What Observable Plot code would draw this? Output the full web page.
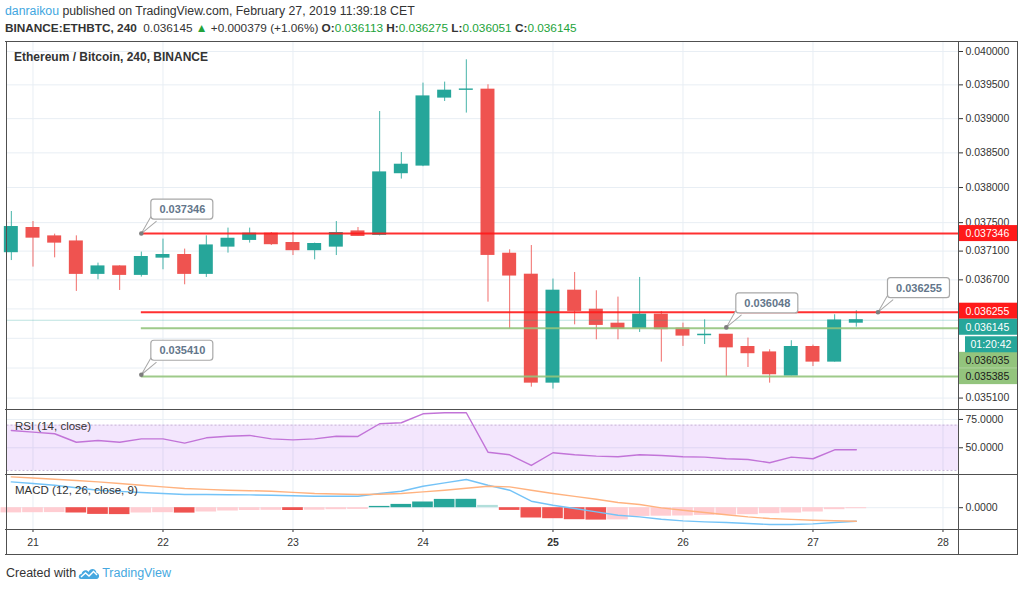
<!DOCTYPE html>
<html>
<head>
<meta charset="utf-8">
<script src="https://cdn.jsdelivr.net/npm/d3@7"></script>
<script src="https://cdn.jsdelivr.net/npm/@observablehq/plot@0.6"></script>
<style>
  html, body { margin: 0; padding: 0; background: #fff; }
  #wrap { position: relative; width: 1024px; height: 589px; overflow: hidden; background: #fff;
          font-family: "Liberation Sans", Arial, sans-serif; color: #333; }
  .pane { position: absolute; left: 0; }
  .hdr { position: absolute; left: 5px; line-height: 14px; white-space: nowrap; color: #333; }
  .g { color: #22a33a; }
  .ln { position: absolute; background: #505050; }
  .lbl { position: absolute; white-space: nowrap; }
</style>
</head>
<body>
<div id="wrap">
  <div class="hdr" style="top:4px;font-size:12.3px"><span style="color:#3fa6e0">danraikou</span> published on TradingView.com, February 27, 2019 11:39:18 CET</div>
  <div class="hdr" id="ohlc" style="top:21px;font-size:11.8px"></div>
  <div id="p1" class="pane" style="top:42px"></div>
  <div id="p2" class="pane" style="top:409px"></div>
  <div id="p3" class="pane" style="top:474px"></div>
  <div class="lbl" style="left:14px;top:50px;font-size:12px;font-weight:bold;color:#333">Ethereum / Bitcoin, 240, BINANCE</div>
  <!-- frame -->
  <div class="ln" style="left:5px;top:41px;width:1013px;height:1px"></div>
  <div class="ln" style="left:5px;top:408.5px;width:1013px;height:1px"></div>
  <div class="ln" style="left:5px;top:473.5px;width:1013px;height:1px"></div>
  <div class="ln" style="left:5px;top:528.5px;width:1013px;height:1px"></div>
  <div class="ln" style="left:5px;top:554px;width:1013px;height:1px"></div>
  <div class="ln" style="left:5.5px;top:41px;width:1px;height:514px"></div>
  <div class="ln" style="left:957.5px;top:41px;width:1px;height:514px"></div>
  <div class="ln" style="left:1017px;top:41px;width:1px;height:514px"></div>
  <div class="lbl" style="left:6px;top:566px;font-size:12.5px;color:#333;display:flex;align-items:center;gap:2px">
    <span>Created with</span>
    <svg width="22" height="13" viewBox="0 0 22 13"><path d="M3,12 C0,12 0,7 3.5,7 C4,3 9,2 10.5,5 C12,1 18,1 18.5,6 C22,6 22,12 18.5,12 Z" fill="#46a8e0"/><polyline points="3,10 7.5,6 11,9 15.5,4.5 19,8" fill="none" stroke="#fff" stroke-width="1.4"/></svg>
    <span style="color:#46a8e0">TradingView</span>
  </div>
</div>
<script>
// ---------- data (4-hour bars, BINANCE:ETHBTC) ----------
const firstBar = "2019-02-20T20:00Z";           // open time of the first visible bar
const open  = [0.037086,0.037423,0.037305,0.037234,0.036784,0.036885,0.036770,0.037010,0.037044,0.036784,
               0.037164,0.037258,0.037343,0.037212,0.037114,0.037164,0.037375,0.037329,0.038207,0.038317,
               0.039312,0.039427,0.039427,0.037062,0.036770,0.035306,0.036549,0.036288,0.036097,0.036039,
               0.036220,0.036029,0.035943,0.035947,0.035781,0.035708,0.035400,0.035781,0.035587,0.036113];
const high  = [0.037658,0.037516,0.037338,0.037314,0.036932,0.036895,0.037086,0.037268,0.037128,0.037314,
               0.037423,0.037423,0.037361,0.037361,0.037212,0.037516,0.037431,0.039105,0.038505,0.039526,
               0.039541,0.039875,0.039501,0.037118,0.037178,0.036711,0.036802,0.036549,0.036462,0.036733,
               0.036265,0.036106,0.036151,0.035950,0.035903,0.035745,0.035867,0.035808,0.036220,0.036275];
const low   = [0.036968,0.036877,0.037006,0.036540,0.036701,0.036553,0.036738,0.036840,0.036632,0.036733,
               0.037072,0.037212,0.037178,0.037038,0.036978,0.037038,0.037305,0.037314,0.038121,0.038300,
               0.039253,0.039082,0.036393,0.036025,0.035245,0.035219,0.036083,0.035880,0.035880,0.035979,
               0.035579,0.035790,0.035816,0.035378,0.035507,0.035298,0.035395,0.035520,0.035580,0.036051];
const close = [0.037437,0.037290,0.037220,0.036784,0.036885,0.036770,0.037016,0.037044,0.036784,0.037178,
               0.037272,0.037343,0.037198,0.037114,0.037198,0.037352,0.037314,0.038216,0.038327,0.039327,
               0.039412,0.039430,0.037048,0.036761,0.035306,0.036549,0.036274,0.036083,0.036029,0.036220,
               0.036025,0.035938,0.035947,0.035779,0.035700,0.035418,0.035781,0.035587,0.036141,0.036145];
const rsi   = [65.3,63.8,62.4,54.9,56.4,54.9,57.9,57.9,54.1,58.8,60.2,60.9,57.9,57.0,57.9,60.2,60.0,71.2,72.1,80.0,
               80.9,80.9,46.1,43.8,34.4,45.6,43.8,42.6,42.1,43.8,43.2,42.1,41.7,40.3,39.7,36.8,41.7,40.3,48.2,48.2];
const macd  = [0.000258,0.000242,0.000225,0.000200,0.000175,0.000163,0.000152,0.000142,0.000132,0.000132,
               0.000130,0.000128,0.000124,0.000120,0.000115,0.000115,0.000115,0.000142,0.000165,0.000215,
               0.000248,0.000282,0.000225,0.000175,0.000065,0.000025,-0.000008,-0.000042,-0.000075,-0.000092,
               -0.000115,-0.000132,-0.000142,-0.000148,-0.000158,-0.000168,-0.000168,-0.000162,-0.000148,-0.000135];
const signal= [0.000308,0.000297,0.000285,0.000272,0.000258,0.000242,0.000225,0.000208,0.000192,0.000183,
               0.000175,0.000170,0.000165,0.000153,0.000142,0.000137,0.000132,0.000135,0.000142,0.000158,
               0.000175,0.000195,0.000215,0.000208,0.000175,0.000142,0.000113,0.000085,0.000052,0.000032,
               -0.000002,-0.000025,-0.000048,-0.000070,-0.000092,-0.000108,-0.000117,-0.000125,-0.000130,-0.000135];
const hist  = [-0.000052,-0.000050,-0.000049,-0.000053,-0.000067,-0.000069,-0.000053,-0.000050,-0.000054,-0.000043,
               -0.000033,-0.000028,-0.000026,-0.000028,-0.000025,-0.000020,-0.000017,0.000013,0.000033,0.000057,
               0.000083,0.000084,0.000023,-0.000027,-0.000103,-0.000110,-0.000120,-0.000124,-0.000122,-0.000087,
               -0.000085,-0.000083,-0.000077,-0.000075,-0.000070,-0.000060,-0.000053,-0.000043,-0.000020,-0.000010];

const dayTicks    = ["2019-02-21","2019-02-22","2019-02-23","2019-02-24","2019-02-25","2019-02-26","2019-02-27","2019-02-28"];
const boldDay     = "2019-02-25";
const priceTicks  = [0.0400,0.0395,0.0390,0.0385,0.0380,0.0375,0.0371,0.0367,0.0363,0.0359,0.0355,0.0351];
const priceLabels = [0.0400,0.0395,0.0390,0.0385,0.0380,0.0375,0.0371,0.0367,0.0351];  // the rest sit under price tags
const rsiTicks    = [75, 50];
const rsiBand     = [30, 70];
const macdTicks   = [0];

// horizontal levels drawn on the chart
const levelValues = [0.037346, 0.036255, 0.036035, 0.035385];
const levelKinds  = ["resistance", "resistance", "support", "support"];
const levelStart  = "2019-02-21T20:00Z";
// price callouts
const calloutValues = [0.037346, 0.035410, 0.036048, 0.036255];
const calloutTimes  = ["2019-02-21T20:00Z", "2019-02-21T20:00Z", "2019-02-26T08:00Z", "2019-02-27T12:00Z"];
// price tags on the right scale
const tagValues = [0.037346, 0.036255, 0.036145, 0.036035, 0.035385];
const tagKinds  = ["resistance", "resistance", "last", "support", "support"];
const lastPrice = 0.036145;
const countdown = "01:20:42";

// ---------- build ----------
const HOUR = 3600e3;
const t0 = new Date(firstBar).getTime();
const bars = open.map((o, i) => ({t: new Date(t0 + i * 4 * HOUR), o, h: high[i], l: low[i], c: close[i],
                                  rsi: rsi[i], macd: macd[i], signal: signal[i], hist: hist[i], prev: i ? hist[i - 1] : -Infinity}));
const days = dayTicks.map(d => new Date(d + "T00:00Z"));
const bday = new Date(boldDay + "T00:00Z");
const levels = levelValues.map((v, i) => ({v, kind: levelKinds[i], t: new Date(levelStart)}));
const fmt6 = d3.format(".6f"), fmt4 = d3.format(".4f");
const callouts = calloutValues.map((v, i) => ({v, t: new Date(calloutTimes[i]), label: fmt6(v)}));
const tags = tagValues.map((v, i) => ({v, kind: tagKinds[i], label: fmt6(v)}));

const FONT = '"Liberation Sans", Arial, sans-serif';
const UP = "#26a69a", DN = "#ef5350", GRID = "#e8eef4";
const RES = "#ff1a1a", SUP = "#93c47d";
const xDomain = [new Date("2019-02-20T19:12Z"), new Date("2019-02-28T02:52Z")];
const xEnd = () => xDomain[1];
const W = 1024, ML = 6.5, MR = 66;
const base = {width: W, marginLeft: ML, marginRight: MR, marginTop: 0,
              style: {background: "transparent", overflow: "visible", fontFamily: FONT, fontSize: "10.5px", color: "#333"}};
const xOpt = {type: "utc", domain: xDomain, axis: null, label: null};

// header
const L = bars[bars.length - 1];
document.getElementById("ohlc").innerHTML =
  `<b>BINANCE:ETHBTC, 240</b>&nbsp; ${fmt6(L.c)} <span class="g">&#9650;</span> +0.000379 (+1.06%) ` +
  `<b>O:</b><span class="g">${fmt6(L.o)}</span> <b>H:</b><span class="g">${fmt6(L.h)}</span> ` +
  `<b>L:</b><span class="g">${fmt6(L.l)}</span> <b>C:</b><span class="g">${fmt6(L.c)}</span>`;

// tag styling (layout offsets keep the labels from overlapping, as on the original)
const tagStyle = {resistance: {fill: RES, text: "#fff"}, last: {fill: UP, text: "#fff"}, support: {fill: SUP, text: "#1a1a1a"}};
const tagDy = [0, -1, 7, 32, 0];
const tagMarks = tags.flatMap((tg, i) => [
  Plot.rect([tg], {x1: xEnd, x2: xEnd, y1: "v", y2: "v", dy: tagDy[i], insetTop: -8, insetBottom: -8, insetRight: -59,
                   fill: tagStyle[tg.kind].fill}),
  Plot.text([tg], {x: xEnd, y: "v", text: "label", dy: tagDy[i], dx: 7, textAnchor: "start",
                   fill: tagStyle[tg.kind].text, fontSize: 10.5})
]);
const countdownMarks = [
  Plot.rect([lastPrice], {x1: xEnd, x2: xEnd, y1: d => d, y2: d => d, dy: 24.5, insetTop: -8, insetBottom: -8,
                          insetLeft: 7, insetRight: -59, fill: UP}),
  Plot.text([lastPrice], {x: xEnd, y: d => d, text: () => countdown, dy: 24.5, dx: 12, textAnchor: "start", fill: "#fff", fontSize: 10.5})
];

// callout bubbles: a tail from the anchor point up to a rounded box
const calloutMarks = [
  Plot.vector(callouts, {x: "t", y: "v", length: 19, rotate: 220, anchor: "end", shape: "spike", r: 3.5,
                         fill: "white", stroke: "#a8a8a8", strokeWidth: 1}),
  Plot.rect(callouts, {x1: "t", x2: "t", y1: "v", y2: "v", insetLeft: 10, insetRight: -72, insetTop: -34, insetBottom: 14,
                       rx: 3, fill: "white", stroke: "#a8a8a8", strokeWidth: 1.2}),
  Plot.dot(callouts, {x: "t", y: "v", r: 2.3, fill: "#7d7d7d"}),
  Plot.text(callouts, {x: "t", y: "v", text: "label", dx: 41, dy: -24, textAnchor: "middle", fontSize: 11,
                       fontWeight: "bold", fill: "#63768a"})
];

const body = 1.29 * HOUR;
const main = Plot.plot({
  ...base, height: 367, marginBottom: 0,
  x: xOpt,
  y: {type: "log", domain: [0.034949, 0.040136], axis: null, label: null},
  marks: [
    Plot.gridX(days, {stroke: GRID, strokeOpacity: 1}),
    Plot.gridY(priceTicks, {stroke: GRID, strokeOpacity: 1}),
    Plot.ruleX(bars, {x: "t", y1: "l", y2: "h", stroke: d => d.c >= d.o ? UP : DN, strokeOpacity: 0.85}),
    Plot.rect(bars, {x1: d => new Date(+d.t - body), x2: d => new Date(+d.t + body), y1: "o", y2: "c",
                     fill: d => d.c >= d.o ? UP : DN, insetTop: -0.6, insetBottom: -0.6}),
    Plot.ruleY([lastPrice], {stroke: UP, strokeOpacity: 0.3}),
    Plot.ruleY(levels, {y: "v", x1: "t", x2: xEnd, stroke: d => d.kind === "support" ? SUP : RES, strokeWidth: 2, strokeOpacity: 0.9}),
    ...calloutMarks,
    Plot.axisY(priceLabels, {anchor: "right", tickFormat: fmt6, tickSize: 4, tickPadding: 3, fontSize: 10.5, label: null}),
    ...tagMarks,
    ...countdownMarks
  ]
});
document.getElementById("p1").append(main);

const rsiPlot = Plot.plot({
  ...base, height: 65, marginBottom: 0,
  x: xOpt,
  y: {domain: [26.4, 83.8], axis: null, label: null},
  marks: [
    Plot.gridX(days, {stroke: GRID, strokeOpacity: 1}),
    Plot.gridY(rsiTicks, {stroke: GRID, strokeOpacity: 1}),
    Plot.rect([rsiBand], {y1: d => d[0], y2: d => d[1], fill: "#a040f0", fillOpacity: 0.13}),
    Plot.ruleY(rsiBand, {stroke: "#c6b3d6", strokeDasharray: "2,2"}),
    Plot.line(bars, {x: "t", y: "rsi", stroke: "#c274d8", strokeWidth: 1.4}),
    Plot.axisY(rsiTicks, {anchor: "right", tickFormat: fmt4, tickSize: 4, tickPadding: 3, fontSize: 10.5, label: null}),
    Plot.text(["RSI (14, close)"], {frameAnchor: "top-left", text: d => d, dx: 8, dy: 17, lineAnchor: "middle",
                                    textAnchor: "start", fontSize: 11.5, fill: "#333"})
  ]
});
document.getElementById("p2").append(rsiPlot);

const histColor = d => d.hist >= 0 ? (d.hist > d.prev ? "#26a69a" : "#b2dfdb") : (d.hist < d.prev ? "#ef5350" : "#ffcdd2");
const macdPlot = Plot.plot({
  ...base, height: 80, marginBottom: 25,
  x: xOpt,
  y: {domain: [-0.000218, 0.000332], axis: null, label: null},
  marks: [
    Plot.gridX(days, {stroke: GRID, strokeOpacity: 1}),
    Plot.gridY(macdTicks, {stroke: GRID, strokeOpacity: 1}),
    Plot.rect(bars, {x1: d => new Date(+d.t - 2 * HOUR), x2: d => new Date(+d.t + 2 * HOUR), y1: 0, y2: "hist",
                     fill: histColor, insetLeft: 0.5, insetRight: 0.5}),
    Plot.line(bars, {x: "t", y: "macd", stroke: "#74c3f7", strokeWidth: 1.4}),
    Plot.line(bars, {x: "t", y: "signal", stroke: "#ffb27f", strokeWidth: 1.4}),
    Plot.axisY(macdTicks, {anchor: "right", tickFormat: fmt4, tickSize: 4, tickPadding: 3, fontSize: 10.5, label: null}),
    Plot.axisX(days.filter(d => +d !== +bday), {anchor: "bottom", tickFormat: d => d.getUTCDate(), tickSize: 3, tickPadding: 6, fontSize: 10.5, label: null}),
    Plot.axisX([bday], {anchor: "bottom", tickFormat: d => d.getUTCDate(), tickSize: 3, tickPadding: 6, fontSize: 10.5, fontWeight: "bold", label: null}),
    Plot.text(["MACD (12, 26, close, 9)"], {frameAnchor: "top-left", text: d => d, dx: 8, dy: 16, lineAnchor: "middle",
                                            textAnchor: "start", fontSize: 11.5, fill: "#333"})
  ]
});
document.getElementById("p3").append(macdPlot);
</script>
</body>
</html>
